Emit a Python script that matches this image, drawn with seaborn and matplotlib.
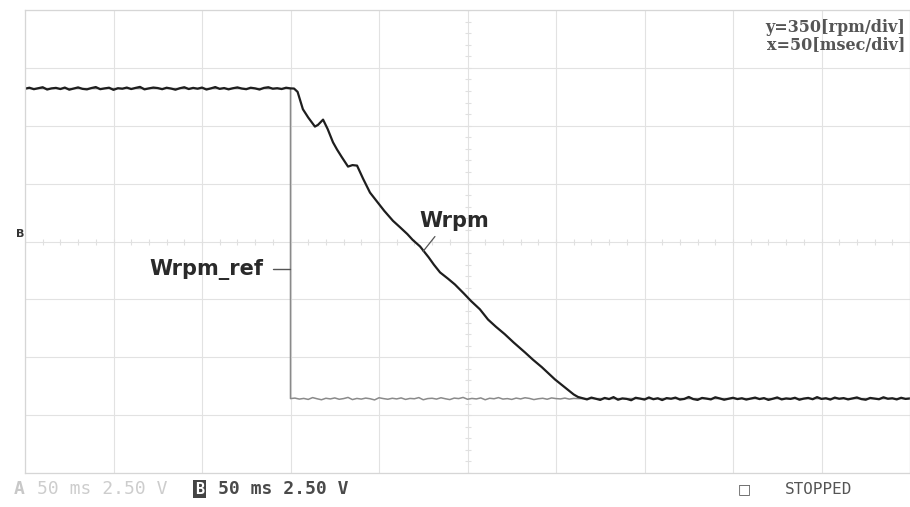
import numpy as np
import pandas as pd
import matplotlib
matplotlib.use("Agg")
import matplotlib.pyplot as plt
import seaborn as sns

# Scope settings
RPM_PER_DIV = 350
MS_PER_DIV = 50
N_XDIV, N_YDIV = 10, 8

# Measured speed Wrpm [rpm] -- steady high, decel ramp, steady low
hi_t = np.arange(0, 151, 2.5)
hi_rpm = [924, 930, 921, 927, 933, 919, 926, 929, 922, 931,
          918, 925, 932, 923, 920, 928, 934, 921, 926, 930,
          917, 927, 924, 931, 922, 929, 935, 920, 926, 931,
          928, 921, 930, 925, 918, 927, 933, 922, 929, 924,
          931, 919, 926, 934, 923, 928, 920, 927, 932, 925,
          921, 930, 926, 919, 929, 933, 924, 927, 922, 930, 926]

ramp_t = [152, 154, 157, 160, 163.8, 165.5, 168.4, 171, 174, 176.3,
          179, 182.5, 185, 187.6, 191, 194.9, 199, 203, 207.9, 212,
          216, 219, 223.2, 228, 231, 234.5, 239, 242.9, 248, 252,
          257, 261.6, 266, 271, 276, 282.5, 287, 292, 296, 299.4,
          303, 307, 310, 312.4]
ramp_rpm = [925, 905, 800, 750, 695, 705, 737, 680, 600, 556,
            510, 453, 462, 459, 380, 296, 240, 185, 125, 85,
            45, 10, -30, -95, -140, -187, -225, -260, -315, -360,
            -410, -472, -515, -560, -610, -671, -715, -760, -800, -834,
            -865, -900, -925, -940]

lo_t = np.arange(315, 501, 2.5)
lo_rpm = [-948, -955, -944, -951, -958, -946, -953, -941, -957, -949,
          -952, -960, -945, -950, -956, -943, -954, -948, -959, -947,
          -951, -944, -956, -952, -940, -953, -958, -946, -950, -955,
          -942, -949, -957, -951, -945, -953, -948, -956, -950, -944,
          -953, -947, -958, -951, -943, -955, -949, -952, -945, -957,
          -950, -946, -954, -941, -952, -948, -956, -944, -951, -947,
          -955, -949, -943, -953, -957, -946, -950, -954, -942, -951,
          -948, -955, -945, -952, -949]

# Speed reference Wrpm_ref [rpm] -- step at 150 ms
ref_step_t = [0, 150, 150]
ref_step_rpm = [925, 925, -950]
ref_lo_t = np.arange(152.5, 311, 2.5)
ref_lo_rpm = [-947, -953, -949, -955, -944, -951, -957, -948,
              -952, -946, -954, -950, -943, -956, -949, -953,
              -947, -951, -958, -945, -950, -954, -948, -952,
              -946, -955, -949, -951, -944, -957, -950, -948,
              -953, -945, -951, -956, -947, -950, -943, -954,
              -949, -952, -946, -957, -948, -951, -944, -953,
              -950, -955, -947, -952, -945, -949, -956, -951,
              -948, -954, -946, -950, -952, -947, -953, -949]
ref_tail_t = [312.5, 500]
ref_tail_rpm = [-950, -950]

wrpm = pd.DataFrame({"t": np.concatenate([hi_t, ramp_t, lo_t]),
                     "rpm": np.concatenate([hi_rpm, ramp_rpm, lo_rpm])})
ref = pd.DataFrame({"t": np.concatenate([ref_step_t, ref_lo_t, ref_tail_t]),
                    "rpm": np.concatenate([ref_step_rpm, ref_lo_rpm, ref_tail_rpm])})

sns.set_style("white")
fig = plt.figure(figsize=(9.10, 5.07), dpi=100)
ax = fig.add_axes([25 / 910, 34 / 507, 885 / 910, 463 / 507])

xmax = N_XDIV * MS_PER_DIV
ymax = N_YDIV / 2 * RPM_PER_DIV
ax.set_xlim(0, xmax)
ax.set_ylim(-ymax, ymax)

# graticule
ax.set_xticks(np.arange(0, xmax + 1, MS_PER_DIV))
ax.set_yticks(np.arange(-ymax, ymax + 1, RPM_PER_DIV))
ax.grid(True, color="#e2e2e2", lw=0.8)
ax.tick_params(length=0, labelbottom=False, labelleft=False)
for s in ax.spines.values():
    s.set_color("#d6d6d6")
    s.set_linewidth(0.9)
# centre-axis sub-division ticks
sub_x = np.arange(0, xmax + 1, MS_PER_DIV / 5)
sub_y = np.arange(-ymax, ymax + 1, RPM_PER_DIV / 5)
ax.plot(sub_x, np.zeros_like(sub_x), ls="none", marker="|", ms=4,
        color="#e0e0e0", mew=0.8)
ax.plot(np.full_like(sub_y, xmax / 2), sub_y, ls="none", marker="_", ms=4,
        color="#e0e0e0", mew=0.8)

sns.lineplot(data=ref, x="t", y="rpm", sort=False, estimator=None,
             color="#8a8a8a", lw=1.1, ax=ax)
sns.lineplot(data=wrpm, x="t", y="rpm", sort=False, estimator=None,
             color="#1e1e1e", lw=1.6, ax=ax)
ax.set_xlabel("")
ax.set_ylabel("")

# trace labels
lab = dict(family="DejaVu Sans", weight="bold", fontsize=15, color="#2a2a2a")
ax.text(223, 125, "Wrpm", ha="left", va="center", **lab)
ax.plot([231.6, 224.9], [30, -60], color="#555555", lw=0.9)
ax.text(134.5, -169, "Wrpm_ref", ha="right", va="center", **lab)
ax.plot([140, 149.5], [-169, -169], color="#555555", lw=1.0)

# channel marker
fig.text(20 / 910, 1 - 234 / 507, "B", ha="center", va="center",
         family="DejaVu Sans", weight="bold", fontsize=8, color="#333333")

# scale annotation
scale = dict(family="DejaVu Serif", weight="bold", fontsize=11.5,
             color="#555555", ha="right")
fig.text(905 / 910, 1 - 27 / 507, "y=350[rpm/div]", va="center", **scale)
fig.text(905 / 910, 1 - 46 / 507, "x=50[msec/div]", va="center", **scale)

# status bar
mono = dict(family="DejaVu Sans Mono", weight="bold", fontsize=13, va="center")
fig.text(14 / 910, 1 - 489 / 507, "A", color="#c8c8c8", **mono)
fig.text(37 / 910, 1 - 489 / 507, "50 ms 2.50 V", color="#cdcdcd",
         family="DejaVu Sans Mono", fontsize=13, va="center")
fig.text(195 / 910, 1 - 489 / 507, "B", color="white",
         bbox=dict(boxstyle="square,pad=0.1", fc="#444444", ec="none"),
         family="DejaVu Sans Mono", weight="bold", fontsize=11, va="center")
fig.text(218 / 910, 1 - 489 / 507, "50 ms 2.50 V", color="#4a4a4a", **mono)
fig.text(738 / 910, 1 - 489 / 507, "\u25a1", family="DejaVu Sans", fontsize=10,
         color="#555555", va="center")
fig.text(785 / 910, 1 - 489 / 507, "STOPPED", family="DejaVu Sans Mono",
         fontsize=11.5, color="#555555", va="center")

fig.savefig("out.png", dpi=100)
